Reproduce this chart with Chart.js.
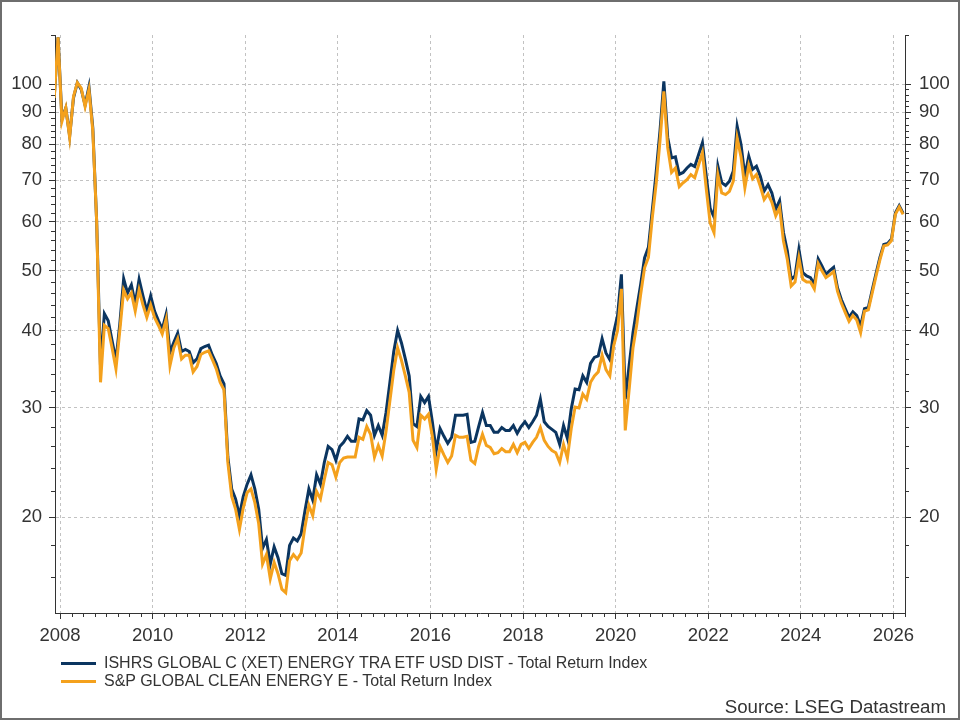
<!DOCTYPE html>
<html>
<head>
<meta charset="utf-8">
<script src="https://cdn.jsdelivr.net/npm/chart.js@4.4.1/dist/chart.umd.min.js"></script>
<style>
    html, body { margin: 0; padding: 0; background: #fff; }
    #wrap { position: relative; width: 960px; height: 720px; font-family: "Liberation Sans", Arial, sans-serif; color: #333; }
    #frame { position: absolute; left: 0; top: 0; width: 960px; height: 720px; box-sizing: border-box; border: 2px solid #6e6e6e; pointer-events: none; }
    .legend-row { position: absolute; left: 61px; height: 18px; display: flex; align-items: center; font-size: 16px; white-space: nowrap; }
    .legend-row .swatch { width: 35px; height: 3px; margin-right: 8px; }
    #source { position: absolute; right: 14px; top: 696px; font-size: 18.7px; line-height: 22px; }
</style>
</head>
<body>
<div id="wrap">
    <canvas id="myChart" width="960" height="720"></canvas>
    <div class="legend-row" style="top:654px"><span class="swatch" style="background:#0b3560"></span>ISHRS GLOBAL C (XET) ENERGY TRA ETF USD DIST - Total Return Index</div>
    <div class="legend-row" style="top:672px"><span class="swatch" style="background:#f4a11d"></span>S&amp;P GLOBAL CLEAN ENERGY E - Total Return Index</div>
    <div id="source">Source: LSEG Datastream</div>
    <div id="frame"></div>
</div>
<script>
// monthly observations, first one is Nov 2007
const startYear = 2007;
const startMonth = 11;

const ishrsTRI = [
    95, 119,
    88, 91.5, 82.5, 95, 100.5, 98, 92.5, 99, 85, 60, 35, 42.6,
    41.5, 38.5, 35.8, 41, 48.5, 46, 47.4, 44.2, 48.4, 45.5, 43, 45.5,
    43, 41.5, 40.2, 42.5, 36.9, 38.3, 39.6, 37, 37.3, 37, 35.5, 36,
    37.4, 37.7, 37.9, 36.5, 35.4, 33.8, 32.8, 25, 22.2, 21.4, 20.1, 21.6,
    22.6, 23.4, 22.2, 20.6, 17.8, 18.4, 16.8, 17.9, 17.2, 16.2, 16.1, 18.0,
    18.5, 18.3, 18.8, 20.5, 22.2, 21.3, 23.4, 22.6, 24.5, 26.0, 25.7, 24.7,
    26.0, 26.4, 27.0, 26.5, 26.5, 28.8, 28.7, 29.7, 29.2, 27.1, 28.1, 27.1,
    29.5, 33, 37, 40, 38.2, 36, 33.8, 28.3, 28.0, 31.3, 30.6, 31.3,
    28.5, 25.6, 27.8, 27.0, 26.3, 26.9, 29.2, 29.2, 29.2, 29.3, 26.4, 26.5,
    28.0, 29.5, 28.1, 28.1, 27.4, 27.4, 27.9, 27.6, 27.6, 28.1, 27.3, 28.0,
    28.5, 27.9, 28.5, 29.2, 31.0, 28.5, 28.0, 27.7, 27.4, 26.2, 28.1, 26.8,
    29.9, 32.2, 32.1, 33.8, 33.0, 35.4, 36.2, 36.4, 38.8, 36.8, 35.9, 39.7,
    42.3, 49.3, 31.0, 35.1, 39.7, 43.5, 47.5, 52.4, 54.5, 62.5, 72, 84,
    101, 82, 76, 76.3, 71.5, 72, 73.2, 74.2, 73.6, 76.9, 80.4, 71,
    63, 61, 73.7, 69.3, 68.6, 69.7, 72.4, 85.5, 79.9, 71, 76.5, 72.8,
    73.7, 71, 67.2, 68.8, 66.7, 62.8, 64.8, 57.6, 53.8, 48.4, 49, 54.1,
    49.6, 49, 48.7, 47.5, 52.2, 50.8, 49.3, 50, 50.6, 46.9, 44.9, 43.4,
    42.0, 42.9, 42.3, 40.7, 43.4, 43.6, 46.5, 49.5, 52.5, 55.1, 55.3, 56.2,
    61.9, 63.6, 61.9
];

const spCleanTRI = [
    95, 119,
    87, 91.5, 82, 95.5, 100.5, 98.5, 92, 98, 84, 60, 33, 40.8,
    40.3, 37.5, 34.7, 40, 46.5, 45, 46, 43, 46.5, 44, 42, 44,
    42, 40.8, 39.5, 41.7, 35.1, 37.5, 38.8, 36, 36.5, 36.5, 34.3, 35,
    36.6, 36.9, 37.1, 35.9, 34.7, 33.0, 32.1, 24.5, 21.6, 20.6, 19.1, 20.7,
    21.9, 22.2, 21.1, 19.5, 16.8, 17.4, 15.9, 16.9, 16.2, 15.3, 15.1, 17.0,
    17.4, 17.1, 17.5, 19.3, 20.9, 20.1, 22.0, 21.4, 23.0, 24.5, 24.3, 23.2,
    24.5, 24.9, 25.0, 25.0, 25.0, 26.9, 26.7, 28.0, 27.2, 25.0, 26.1, 25.1,
    27.5, 30.8, 34.5, 37.5, 35.8, 33.8, 31.8, 26.6, 25.9, 29.2, 28.8, 29.3,
    27.0, 23.9, 26.0, 25.2, 24.5, 25.1, 27.1, 26.9, 26.9, 27.0, 24.7, 24.4,
    26.0, 27.2, 26.1, 25.9, 25.3, 25.4, 25.8, 25.5, 25.5, 26.2, 25.4, 26.2,
    26.4, 25.8, 26.4, 26.9, 27.9, 26.6, 26.0, 25.6, 25.4, 24.5, 26.2, 24.9,
    27.8, 30.1, 30.0, 31.6, 31.0, 33.0, 33.8, 34.3, 36.5, 34.6, 33.8, 37.8,
    40.0, 46.7, 27.6, 32.1, 37.5, 41, 45.8, 50.5, 52.5, 60.8, 69, 81,
    97.3, 79, 72, 73.2, 68.3, 69.3, 70.1, 71.4, 70.6, 74, 77.5, 67.7,
    59.7, 57.6, 71.4, 66.7, 66.3, 67.1, 69.7, 81.8, 76.3, 68, 73.9, 70.3,
    71.4, 68.4, 65.1, 66.5, 64.4, 61.3, 63.2, 55.8, 52.1, 47.2, 47.9, 52.4,
    48.4, 47.9, 47.9, 46.7, 51.3, 49.9, 48.7, 49.2, 49.8, 46.3, 44.3, 42.8,
    41.4, 42.3, 41.6, 39.7, 43, 43.2, 46, 49, 52, 54.8, 55, 55.9,
    61.6, 63.3, 61.6
];

const xTicks = [2008, 2010, 2012, 2014, 2016, 2018, 2020, 2022, 2024, 2026];
const yTicks = [20, 30, 40, 50, 60, 70, 80, 90, 100];

// mid-month position of each observation in decimal years
const months = ishrsTRI.map((_, i) => startYear + (startMonth - 1 + i + 0.5) / 12);

const yMinor = [];
for (let v = 16; v <= 98; v += 2) {
    if (v % 10 !== 0) yMinor.push(v);
}
yMinor.push(120);

const font = { family: "'Liberation Sans', Arial, sans-serif", size: 18.5 };
const axisColor = "#333";

const minorTicks = {
    id: "minorTicks",
    afterDraw(chart) {
        const { ctx, chartArea: a, scales } = chart;
        const x = scales.x, y = scales.y;
        ctx.save();
        ctx.strokeStyle = axisColor;
        ctx.lineWidth = 1;
        ctx.beginPath();
        for (let q = Math.ceil(x.min * 4); q <= Math.floor(x.max * 4); q++) {
            const t = q / 4;
            if (xTicks.includes(t)) continue;
            const px = Math.round(x.getPixelForValue(t)) + 0.5;
            ctx.moveTo(px, a.bottom);
            ctx.lineTo(px, a.bottom + 4);
        }
        yMinor.forEach(v => {
            const py = Math.round(y.getPixelForValue(v)) + 0.5;
            ctx.moveTo(a.left, py);
            ctx.lineTo(a.left - 4, py);
            ctx.moveTo(a.right, py);
            ctx.lineTo(a.right + 4, py);
        });
        ctx.stroke();
        ctx.restore();
    }
};

const toPoints = arr => arr.map((v, i) => ({ x: months[i], y: v }));

const logAxis = (position, onArea, pad) => ({
    type: "logarithmic",
    position,
    min: 14,
    max: 120,
    afterBuildTicks: s => { s.ticks = yTicks.map(v => ({ value: v })); },
    afterFit: s => { s.width = 55; },
    ticks: { callback: v => String(v), font, color: axisColor, padding: pad, autoSkip: false },
    grid: { drawOnChartArea: onArea, color: "#c2c2c2", tickColor: axisColor, tickLength: 6, lineWidth: 1 },
    border: { color: axisColor, width: 1, dash: [3, 3] }
});

new Chart(document.getElementById("myChart"), {
    type: "line",
    data: {
        datasets: [{
            label: "ISHRS GLOBAL C (XET) ENERGY TRA ETF USD DIST - Total Return Index",
            data: toPoints(ishrsTRI),
            borderColor: "#0b3560",
            borderWidth: 3,
            pointRadius: 0,
            tension: 0,
            clip: 0,
            order: 1
        }, {
            label: "S&P GLOBAL CLEAN ENERGY E - Total Return Index",
            data: toPoints(spCleanTRI),
            borderColor: "#f4a11d",
            borderWidth: 3,
            pointRadius: 0,
            tension: 0,
            clip: 0,
            order: 0
        }]
    },
    options: {
        responsive: false,
        animation: false,
        layout: { padding: { top: 35, left: 0, right: 0, bottom: 0 } },
        plugins: { legend: { display: false }, tooltip: { enabled: false } },
        scales: {
            x: {
                type: "linear",
                min: 2007.892,
                max: 2026.25,
                afterBuildTicks: s => { s.ticks = xTicks.map(v => ({ value: v })); },
                afterFit: s => { s.height = 107; },
                ticks: { callback: v => String(v), font, color: axisColor, padding: 6, maxRotation: 0, autoSkip: false },
                grid: { color: "#c2c2c2", tickColor: axisColor, tickLength: 6, lineWidth: 1 },
                border: { color: axisColor, width: 1, dash: [3, 3] }
            },
            y: logAxis("left", true, 7),
            y2: logAxis("right", false, 8)
        }
    },
    plugins: [minorTicks]
});
</script>
</body>
</html>
